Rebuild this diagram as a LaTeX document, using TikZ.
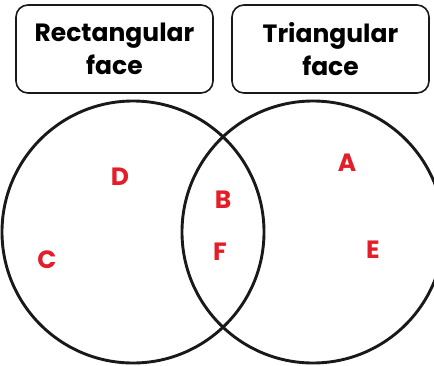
\documentclass[tikz,border=0pt]{standalone}
\usepackage{fontspec}
\setmainfont{Poppins}
\definecolor{lbl}{RGB}{228,30,40}
\definecolor{ink}{RGB}{25,25,25}
\begin{document}
\begin{tikzpicture}[x=1pt,y=-1pt,
  head/.style={draw=ink,line width=1.6pt,rounded corners=12pt,minimum width=197pt,minimum height=88pt,align=center,font=\fontsize{25}{33}\selectfont\bfseries,inner sep=0pt},
  ring/.style={draw=ink,line width=2.9pt,circle,minimum size=262pt,inner sep=0pt},
  item/.style={text=lbl,font=\fontsize{25}{30}\selectfont\bfseries,inner sep=0pt}]
\useasboundingbox (0,0) rectangle (434,365);
\begin{scope}
\clip (0,0) rectangle (434,365);
\node[ring] (L) at (133,232) {};
\node[ring] (R) at (313,232) {};
\end{scope}
\node[head] (hl) at (114.5,49) {\raisebox{-1.5pt}{\parbox{190pt}{\centering Rectangular\\face}}};
\node[head] (hr) at (330.5,49) {\raisebox{-1.5pt}{\parbox{190pt}{\centering Triangular\\face}}};
\node[item] (D) at (120,177) {D};
\node[item] (B) at (223,200) {B};
\node[item] (F) at (220,252) {F};
\node[item] (C) at (47,260) {C};
\node[item] (A) at (347,163) {A};
\node[item] (E) at (373,250) {E};
\end{tikzpicture}
\end{document}
